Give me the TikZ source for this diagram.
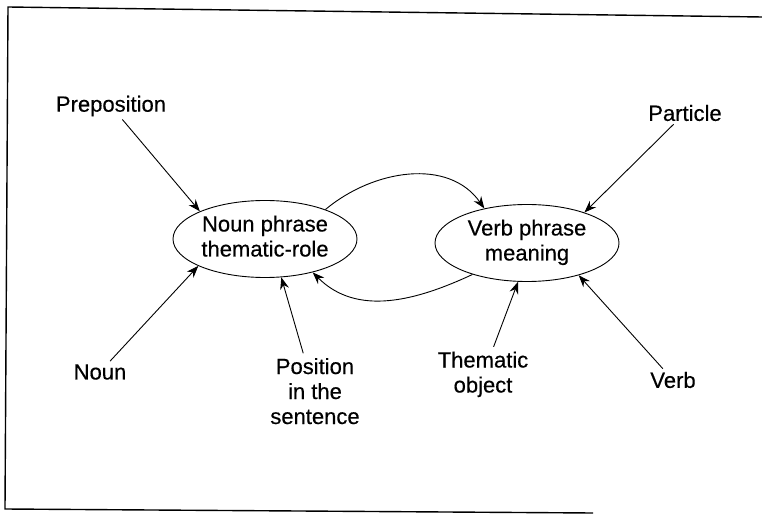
\documentclass[tikz,border=0pt]{standalone}
\usepackage{fontspec}
\setmainfont[FakeBold=0.4]{Liberation Sans}
\usetikzlibrary{shapes.geometric,arrows.meta}

\begin{document}
\begin{tikzpicture}[x=1pt, y=1pt,
            ellip/.style={ellipse, draw, line width=0.9pt, inner sep=0pt, minimum width=184pt, minimum height=77pt},
            word/.style={inner sep=3pt},
            arr/.style={line width=0.9pt, -{Stealth[length=12pt, width=9pt, inset=4pt]}}
        ]
            \useasboundingbox (0,0) rectangle (762,517);
            \fontsize{22}{25}\selectfont
            % frame (scanned, slightly skewed)
            \draw[line width=1.4pt] (762,500) -- (8,510) -- (5,8) -- (593,4);

            \node(nounphrase) at (265,278) [ellip] {\begin{tabular}{@{}c@{}} Noun phrase \\ thematic-role \end{tabular}};
            \node(verbphrase) at (527,274) [ellip] {\begin{tabular}{@{}c@{}} Verb phrase \\ meaning \end{tabular}};

            \node(prepnode) at (111,411) [word] {Preposition};
            \node(particlenode) at (685,404) [word] {Particle};
            \node(nounnode) at (100,145) [word] {Noun};
            \node(verbnode) at (673,137) [word] {Verb};
            \node(positionnode) at (315,123) [word] {\begin{tabular}{@{}c@{}} Position \\ in the \\ sentence \end{tabular}};
            \node(thematicnode) at (483,142) [word] {\begin{tabular}{@{}c@{}} Thematic \\ object \end{tabular}};

            \draw[arr] (prepnode) -- (nounphrase.157);
            \draw[arr] (nounnode) -- (nounphrase.202);
            \draw[arr] (positionnode) -- (nounphrase.293);
            \draw[arr] (particlenode) -- (verbphrase.28);
            \draw[arr] (verbnode) -- (verbphrase.328);
            \draw[arr] (thematicnode) -- (verbphrase.257);

            \draw[arr] (nounphrase.26) to[out=40, in=125] (verbphrase.141);
            \draw[arr] (verbphrase.210) to[out=205, in=-45] (nounphrase.325);
        \end{tikzpicture}
\end{document}
